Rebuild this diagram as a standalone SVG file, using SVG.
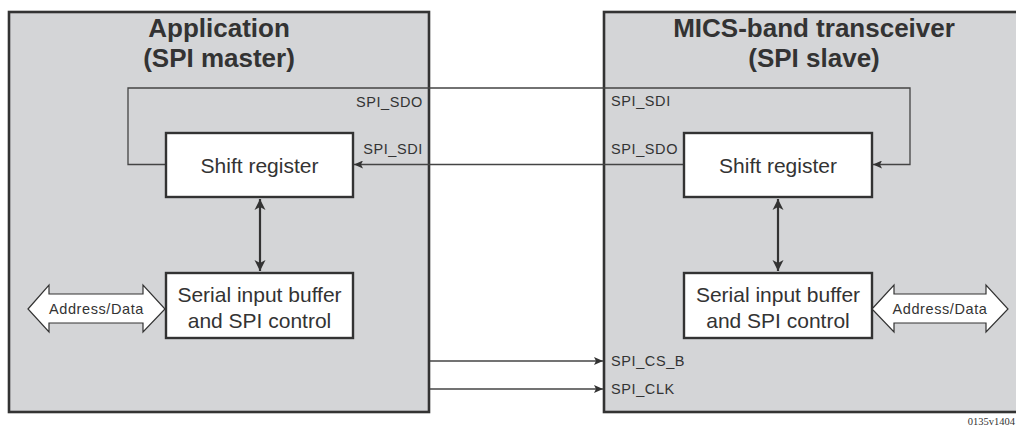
<svg xmlns="http://www.w3.org/2000/svg" width="1016" height="428" viewBox="0 0 1016 428">
<style>
.panel{fill:#d4d5d7;stroke:#333;stroke-width:2.6}
.box{fill:#fff;stroke:#333;stroke-width:2.4}
.title{font-family:"Liberation Sans",Arial,sans-serif;font-weight:bold;font-size:26px;fill:#333;text-anchor:middle}
.btxt{font-family:"Liberation Sans",Arial,sans-serif;font-size:21px;fill:#333;text-anchor:middle}
.lbl{font-family:"Liberation Sans",Arial,sans-serif;font-size:14.5px;letter-spacing:0.6px;fill:#333}
.wire{fill:none;stroke:#444;stroke-width:1.3}
.bus{fill:none;stroke:#333;stroke-width:2.2}
.fat{fill:#fff;stroke:#333;stroke-width:1.2}
</style>
<defs>
<marker id="ah" markerUnits="userSpaceOnUse" markerWidth="10" markerHeight="8" refX="9" refY="4" orient="auto">
<path d="M0,0 L9,4 L0,8 L2,4 Z" fill="#333"/>
</marker>
<marker id="bh" markerUnits="userSpaceOnUse" markerWidth="12" markerHeight="12" refX="11" refY="6" orient="auto-start-reverse">
<path d="M0,0.5 L11,6 L0,11.5 L3,6 Z" fill="#333"/>
</marker>
</defs>
<g id="master">
<rect class="panel" x="9" y="12" width="420" height="400"/>
<text class="title" x="219" y="37">Application</text>
<text class="title" x="219" y="67">(SPI master)</text>
</g>
<g id="slave">
<rect class="panel" x="604" y="12" width="420" height="400"/>
<text class="title" x="814" y="37">MICS-band transceiver</text>
<text class="title" x="814" y="67">(SPI slave)</text>
</g>
<g id="connectors">
<path class="wire" d="M166,164.5 H128 V88 H910 V164.5 H873" marker-end="url(#ah)"/>
<path class="wire" d="M684,164.5 H354" marker-end="url(#ah)"/>
<path class="wire" d="M430,361 H603" marker-end="url(#ah)"/>
<path class="wire" d="M430,389 H603" marker-end="url(#ah)"/>
<path class="bus" d="M260,199 V271" marker-start="url(#bh)" marker-end="url(#bh)"/>
<path class="bus" d="M778,199 V271" marker-start="url(#bh)" marker-end="url(#bh)"/>
</g>
<g id="labels">
<text class="lbl" x="423" y="107" text-anchor="end">SPI_SDO</text>
<text class="lbl" x="423" y="154" text-anchor="end">SPI_SDI</text>
<text class="lbl" x="611" y="106">SPI_SDI</text>
<text class="lbl" x="611" y="154">SPI_SDO</text>
<text class="lbl" x="611" y="366">SPI_CS_B</text>
<text class="lbl" x="611" y="394">SPI_CLK</text>
</g>
<g id="shift-master">
<rect class="box" x="166" y="133" width="187" height="64"/>
<text class="btxt" x="259.5" y="173">Shift register</text>
</g>
<g id="buffer-master">
<rect class="box" x="166" y="273" width="187" height="65"/>
<text class="btxt" x="259.5" y="302">Serial input buffer</text>
<text class="btxt" x="259.5" y="328">and SPI control</text>
</g>
<g id="shift-slave">
<rect class="box" x="684" y="133" width="188" height="64"/>
<text class="btxt" x="778" y="173">Shift register</text>
</g>
<g id="buffer-slave">
<rect class="box" x="684" y="273" width="188" height="65"/>
<text class="btxt" x="778" y="302">Serial input buffer</text>
<text class="btxt" x="778" y="328">and SPI control</text>
</g>
<g id="addr-master">
<path class="fat" d="M28,309 L49,285 V294 H143 V285 L165,309 L143,332 V323 H49 V332 Z"/>
<text class="lbl" x="96.5" y="314" text-anchor="middle">Address/Data</text>
</g>
<g id="addr-slave">
<path class="fat" d="M872,309 L894,285 V294 H986 V285 L1008,309 L986,332 V323 H894 V332 Z"/>
<text class="lbl" x="940" y="314" text-anchor="middle">Address/Data</text>
</g>
<text x="1015" y="425" text-anchor="end" style="font-family:'Liberation Serif',serif;font-size:10.5px;fill:#333">0135v1404</text>
</svg>
